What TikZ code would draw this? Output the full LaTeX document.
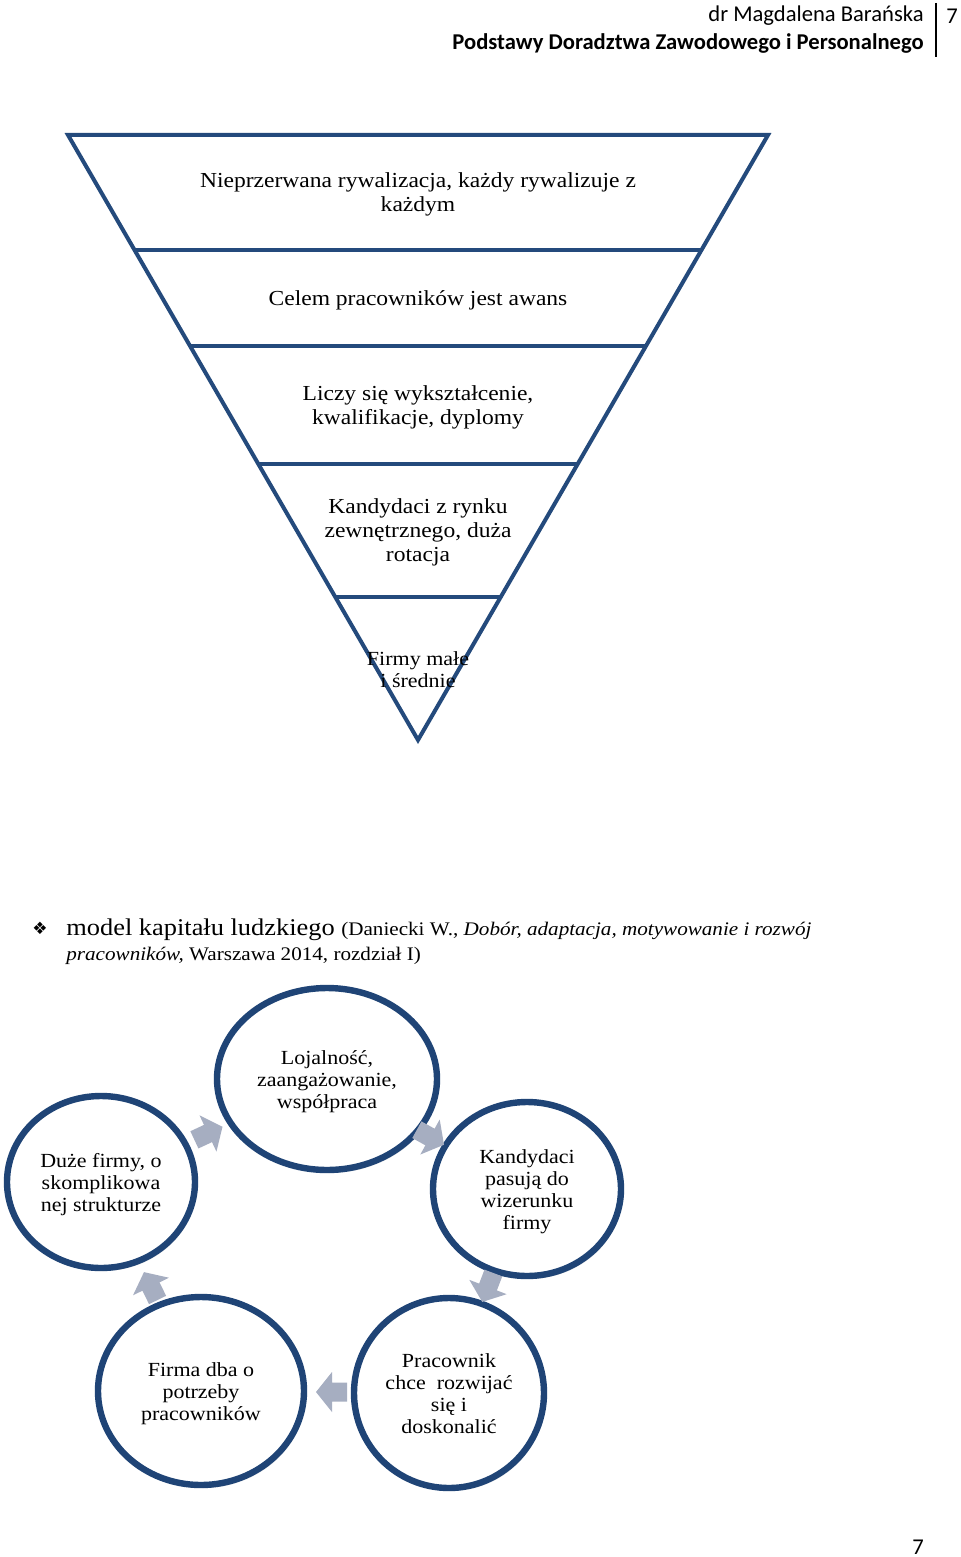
\documentclass[tikz,border=0pt]{standalone}
\usepackage{fontspec}
\setmainfont{Liberation Serif}[FakeStretch=1.1]
\newfontfamily\hdr{Carlito}
\newfontfamily\sym{DejaVu Sans}
\usetikzlibrary{shapes.geometric,calc,shadows}
\definecolor{navy}{HTML}{244A7C}
\definecolor{cnavy}{HTML}{1F4476}
\definecolor{arrowfill}{HTML}{A6AEC1}
\tikzset{
  rowtext/.style={align=center, font=\fontsize{10.7}{12}\selectfont, inner sep=0pt},
  circ/.style={ellipse, draw=cnavy, line width=3.2pt, fill=white, inner sep=0pt,
    drop shadow={opacity=0.18, shadow xshift=1pt, shadow yshift=-1.5pt}},
  circtxt/.style={align=center, font=\fontsize{10}{11}\selectfont, inner sep=0pt, yshift=-1.4pt},
  cycarrow/.pic={\fill[arrowfill] (-15,-9.5) -- (0,-9.5) -- (0,-20) -- (16,0) -- (0,20) -- (0,9.5) -- (-15,9.5) -- cycle;},
  hdrtext/.style={font=\hdr\fontsize{11.3}{12}\selectfont, inner sep=0pt, anchor=east}
}
\begin{document}
\begin{tikzpicture}[x=0.5pt,y=-0.5pt]
\useasboundingbox (0,0) rectangle (960,1557);
\fill[white] (0,0) rectangle (960,1557);
% header
\node[hdrtext] (h1) at (924,16) {dr Magdalena Barańska};
\node[hdrtext, font=\hdr\bfseries\fontsize{11.3}{12}\selectfont] (h2) at (924,43) {Podstawy Doradztwa Zawodowego i Personalnego};
\draw[line width=0.6pt] (936,3) -- (936,57);
\node[font=\hdr\fontsize{11.3}{12}\selectfont, inner sep=0pt] (pg) at (952,16) {7};
% triangle
\draw[navy, line width=2pt, line join=miter] (68,135) -- (768,135) -- (418,740) -- cycle;
\draw[navy, line width=2pt] (134.5,250) -- (701.5,250);
\draw[navy, line width=2pt] (190,346) -- (646,346);
\draw[navy, line width=2pt] (258,464) -- (578,464);
\draw[navy, line width=2pt] (335,597) -- (501,597);
\node[rowtext] (r1) at (418,194) {Nieprzerwana rywalizacja, każdy rywalizuje z\\każdym};
\node[rowtext] (r2) at (418,300) {Celem pracowników jest awans};
\node[rowtext] (r3) at (418,407) {Liczy się wykształcenie,\\kwalifikacje, dyplomy};
\node[rowtext] (r4) at (418,532) {Kandydaci z rynku\\zewnętrznego, duża\\rotacja};
\node[rowtext, font=\fontsize{10}{11}\selectfont] (r5) at (418,670) {Firmy małe\\i średnie};
% bullet line
\node[font=\sym\fontsize{8.5}{11}\selectfont, inner sep=0pt] (bul) at (40,928) {❖};
\node[anchor=base west, inner sep=0pt, font=\fontsize{12}{13}\selectfont] (ref1) at (66,935)
  {model kapitału ludzkiego {\fontsize{9.6}{13}\selectfont (Daniecki W., \textit{Dobór, adaptacja, motywowanie i rozwój}}};
\node[anchor=base west, inner sep=0pt, font=\fontsize{9.6}{13}\selectfont] (ref2) at (66,960)
  {\textit{pracowników,} Warszawa 2014, rozdział I)};
% circles
\node[circ, minimum width=110pt, minimum height=91pt] (c1) at (327,1079) {};
\node[circ, minimum width=94pt, minimum height=87pt] (c2) at (527,1189) {};
\node[circ, minimum width=95pt, minimum height=95pt] (c3) at (449,1393) {};
\node[circ, minimum width=103pt, minimum height=94pt] (c4) at (201,1391) {};
\node[circ, minimum width=94pt, minimum height=86pt] (c5) at (101,1182) {};
\node[circtxt] (t1) at (c1) {Lojalność,\\zaangażowanie,\\współpraca};
\node[circtxt] (t2) at (c2) {Kandydaci\\pasują do\\wizerunku\\firmy};
\node[circtxt, yshift=1.2pt] (t3) at (c3) {Pracownik\\chce\ \ rozwijać\\się i\\doskonalić};
\node[circtxt] (t4) at (c4) {Firma dba o\\potrzeby\\pracowników};
\node[circtxt] (t5) at (c5) {Duże firmy, o\\skomplikowa\\nej strukturze};
% cycle arrows
\pic[rotate=25] at ($(c5)!0.5!(c1)+(-6,3)$) {cycarrow};
\pic[rotate=-29] at ($(c1)!0.5!(c2)+(3,3)$) {cycarrow};
\pic[rotate=-111] at ($(c2)!0.5!(c3)+(0,-4)$) {cycarrow};
\pic[rotate=180] at ($(c3)!0.5!(c4)+(7,0)$) {cycarrow};
\pic[rotate=116] at ($(c4)!0.5!(c5)$) {cycarrow};
% footer
\node[font=\hdr\fontsize{11.3}{12}\selectfont, inner sep=0pt] (pg2) at (918,1547) {7};
\end{tikzpicture}
\end{document}
